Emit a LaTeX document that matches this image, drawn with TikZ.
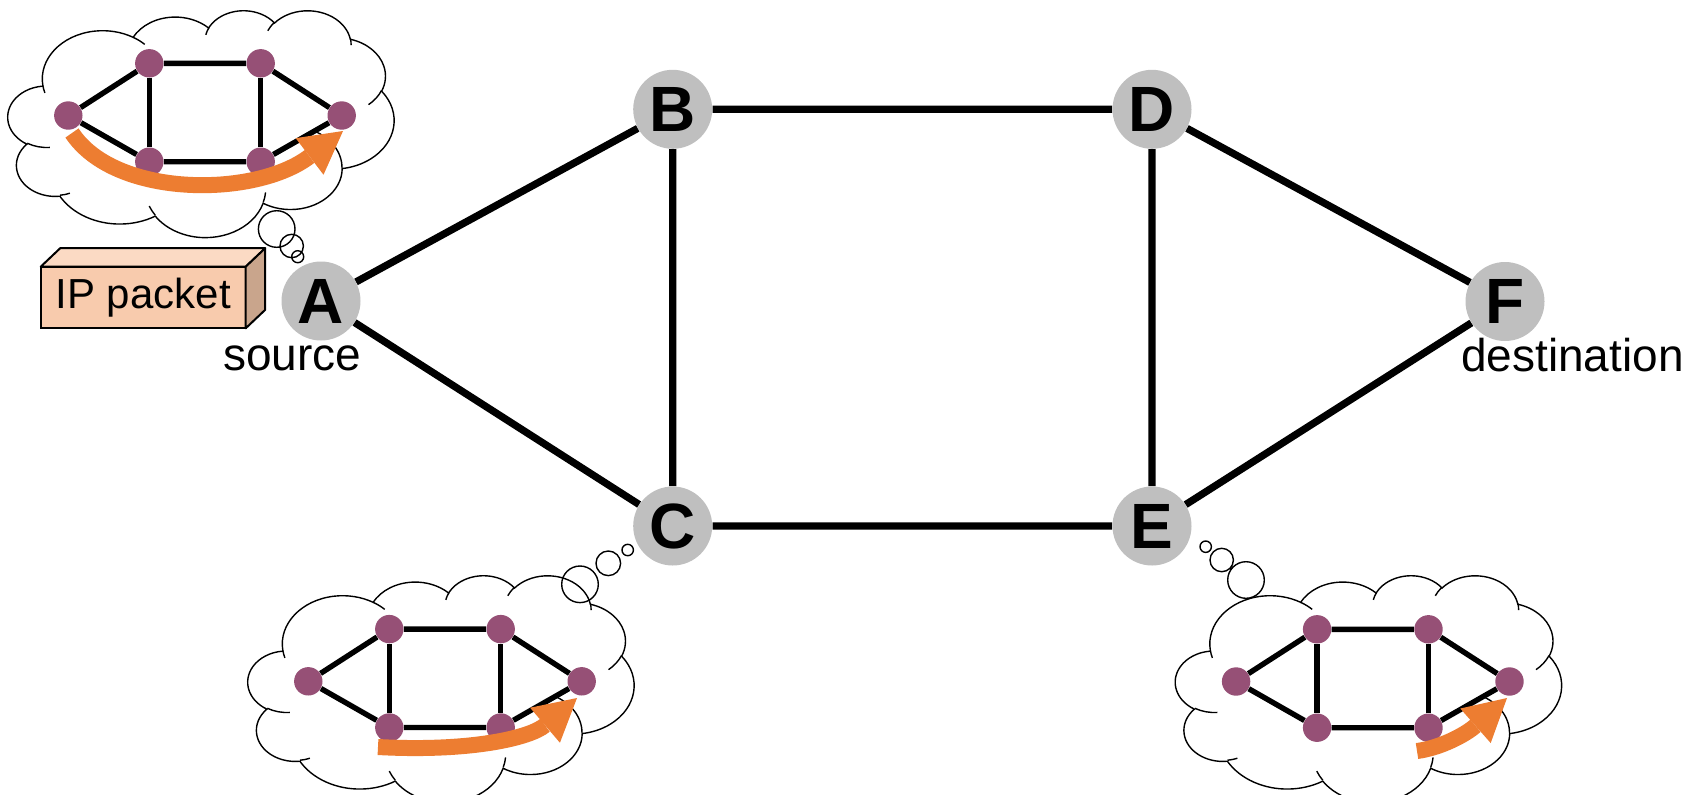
\documentclass[tikz,border=0pt]{standalone}
\usepackage{fontspec}
\setmainfont{Liberation Sans}
\usetikzlibrary{arrows.meta}

\definecolor{routergray}{RGB}{191,191,191}
\definecolor{minipurple}{RGB}{150,80,118}
\definecolor{pathorange}{RGB}{237,125,49}
\definecolor{pktfront}{RGB}{248,203,173}
\definecolor{pkttop}{RGB}{251,218,196}
\definecolor{pktside}{RGB}{201,165,140}

% Thought-cloud outline on a 432 x 432 grid. Each puff is an elliptic arc whose
% angles are angles of the point seen from the centre; they are turned into
% parametric angles before the arc is appended to the path string.
\newcommand\ccpath{}
\newcommand\ccmove[2]{\xdef\ccpath{\ccpath (#1,#2)}}
\newcommand\ccarc[4]{%
  \pgfmathsetmacro\cct{atan2((#1)*sin(#3),(#2)*cos(#3))}%
  \pgfmathsetmacro\cce{atan2((#1)*sin((#3)+(#4)),(#2)*cos((#3)+(#4)))}%
  \pgfmathsetmacro\ccd{\cce-\cct}%
  \pgfmathsetmacro\ccd{\ccd-360*round((\ccd-(#4))/360)}%
  \pgfmathsetmacro\ccrx{(#1)*0.5}%
  \pgfmathsetmacro\ccry{(#2)*0.5}%
  \xdef\ccpath{\ccpath arc[x radius=\ccrx pt,y radius=\ccry pt,start angle=\cct,delta angle=\ccd]}%
}
% outer boundary
\gdef\ccpath{}
\ccmove{39.00}{143.70}
\ccarc{67.53}{91.90}{-190.4875}{123.7805}
\ccarc{53.33}{72.67}{-144.1024}{89.9452}
\ccarc{43.65}{59.45}{-145.8079}{99.7230}
\ccarc{48.57}{65.95}{-130.9861}{117.2417}
\ccarc{53.33}{72.73}{-78.7089}{109.0269}
\ccarc{67.75}{92.20}{-46.2673}{130.2690}
\ccarc{57.85}{78.67}{0.6250}{114.0333}
\ccarc{67.52}{92.15}{22.4516}{115.1726}
\ccarc{77.20}{105.43}{66.2426}{75.7110}
\ccarc{43.60}{59.18}{-274.9421}{146.7356}
\ccarc{43.45}{59.45}{-246.8285}{152.5189}
\xdef\cloudouter{\ccpath -- cycle}
% short inner arcs continuing some puffs
\gdef\ccpath{}
\ccmove{46.93}{261.77}\ccarc{43.45}{59.45}{86.7420}{26.4295}
\ccmove{69.28}{348.99}\ccarc{43.60}{59.18}{73.6105}{11.4475}
\ccmove{164.78}{390.90}\ccarc{67.52}{92.15}{137.6242}{14.0811}
\ccmove{288.27}{347.51}\ccarc{67.52}{92.15}{6.4533}{15.9984}
\ccmove{341.29}{229.54}\ccarc{57.85}{78.67}{-70.2924}{70.9174}
\ccmove{417.98}{153.54}\ccarc{53.33}{72.73}{30.3180}{27.7515}
\ccmove{383.24}{54.26}\ccarc{48.57}{65.95}{-13.7443}{14.8589}
\ccmove{290.78}{39.52}\ccarc{48.57}{65.95}{-149.1815}{18.1954}
\ccmove{221.41}{47.20}\ccarc{43.65}{59.45}{-163.4943}{17.6864}
\ccmove{140.00}{51.92}\ccarc{67.53}{91.90}{-66.7070}{12.3194}
\ccmove{41.27}{157.89}\ccarc{67.53}{91.90}{157.6544}{11.8582}
\xdef\cloudinner{\ccpath}

% a cloud whose 432-grid box has its top left corner at (#1,#2)
\newcommand\thoughtcloud[2]{%
  \begin{scope}[shift={(#1,#2)},xscale=0.8935,yscale=0.525]
    \draw[cloudline,fill=white] \cloudouter;
    \draw[cloudline] \cloudinner;
  \end{scope}}

\tikzset{
  router/.style={circle,fill=routergray,minimum size=39.5pt,inner sep=0pt,
    font=\fontsize{32}{36}\selectfont\bfseries},
  link/.style={line width=3.65pt},
  mininode/.style={circle,fill=minipurple,minimum size=14.2pt,inner sep=0pt},
  minilink/.style={line width=2.7pt},
  cloudline/.style={line width=0.7pt},
  route/.style={draw=pathorange,line width=8pt,
    -{Triangle[width=23pt,length=21pt,line width=0pt]}},
  lbl/.style={font=\fontsize{23}{27}\selectfont,inner sep=0pt,anchor=base},
  packet/.style={draw,fill=pktfront,line width=1pt,minimum width=102.5pt,
    minimum height=30.8pt,inner sep=0pt,outer sep=0pt,
    font=\fontsize{21}{25}\selectfont},
  facet/.style={draw,line width=1pt,line join=round},
  minigraph/.pic={
    \node[mininode] (l)  at (-136.7,-3)   {};
    \node[mininode] (tl) at (-55.7,-49.2) {};
    \node[mininode] (tr) at (55.7,-49.2)  {};
    \node[mininode] (r)  at (136.7,-3)    {};
    \node[mininode] (bl) at (-55.7,49.2)  {};
    \node[mininode] (br) at (55.7,49.2)   {};
    \draw[minilink] (l) -- (tl) -- (tr) -- (r) -- (br) -- (bl) -- (l);
    \draw[minilink] (tl) -- (bl) (tr) -- (br);
  }
}

\begin{document}
\begin{tikzpicture}[x=0.5pt,y=0.5pt,yscale=-1]
\useasboundingbox (0,0) rectangle (1698,794);

% thought clouds with their bubbles
\thoughtcloud{8}{10}
\thoughtcloud{248}{575}
\thoughtcloud{1175.5}{575}
\draw[cloudline] (276.7,229) circle[radius=9.15pt]
  (291.7,246) circle[radius=5.85pt] (297.7,256.7) circle[radius=3pt];
\draw[cloudline] (580,584.3) circle[radius=9.15pt]
  (608.3,563.3) circle[radius=6.15pt] (627.7,550) circle[radius=2.85pt];
\draw[cloudline] (1246,580) circle[radius=9.15pt]
  (1221.7,560) circle[radius=5.85pt] (1205.7,546.7) circle[radius=2.85pt];

% the network as each router sees it, with the chosen path
\pic (g1) at (205,112.5) {minigraph};
\pic (g2) at (445,678.3) {minigraph};
\pic (g3) at (1372.8,678.5) {minigraph};
\draw[route] (72,133) .. controls (115,198) and (255,198) .. (343,131);
\draw[route] (378,747) .. controls (470,752) and (530,738) .. (577,698);
\draw[route] (1417,751) .. controls (1440,748) and (1465,735) .. (1507,698);

% routers and links
\node[router] (A) at (321,301)     {A};
\node[router] (B) at (672.7,109.3) {B};
\node[router] (C) at (672.7,526)   {C};
\node[router] (D) at (1152,109.3)  {D};
\node[router] (E) at (1152,526)    {E};
\node[router] (F) at (1505,301.5)  {F};
\draw[link] (A) -- (B) (A) -- (C) (B) -- (D) (B) -- (C)
  (C) -- (E) (D) -- (E) (D) -- (F) (E) -- (F);
\node[lbl] (src) at (292.2,370) {source};
\node[lbl] (dst) at (1572.5,371.5) {destination};

% the packet as a box
\node[packet] (pkt) at (143.2,297.5) {IP packet};
\draw[facet,fill=pkttop] (pkt.north west) -- ++(19.5,-18.5) -- ++(205,0)
  -- (pkt.north east) -- cycle;
\draw[facet,fill=pktside] (pkt.north east) -- ++(19.5,-18.5) -- ++(0,61.6)
  -- (pkt.south east) -- cycle;
\end{tikzpicture}
\end{document}
